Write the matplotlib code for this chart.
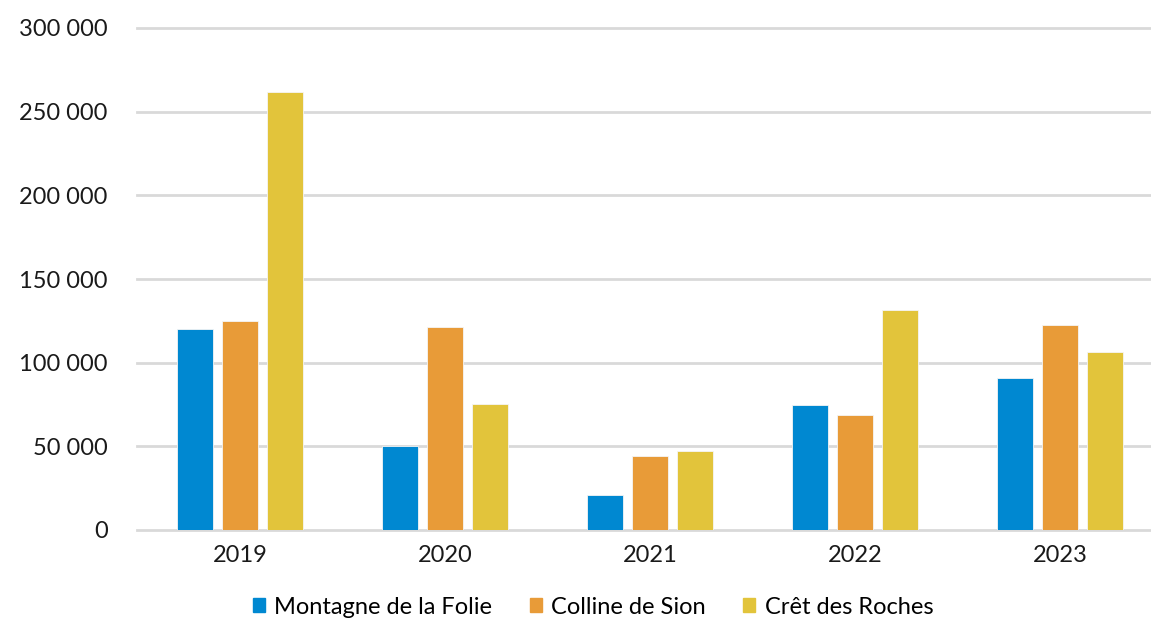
import matplotlib
matplotlib.use("Agg")
import matplotlib.pyplot as plt
import numpy as np
from matplotlib.patches import Rectangle

years = ["2019", "2020", "2021", "2022", "2023"]
series_names = ["Montagne de la Folie", "Colline de Sion", "Crêt des Roches"]
montagne = [120000, 50000, 21000, 75000, 91000]
colline = [125000, 121500, 44000, 69000, 122500]
cret = [262000, 75500, 47500, 131500, 106500]
colors = ["#0088D1", "#E89B38", "#E2C43B"]
yticks = [0, 50000, 100000, 150000, 200000, 250000, 300000]

plt.rcParams['font.family'] = ['Lato', 'DejaVu Sans']

fig = plt.figure(figsize=(11.51, 6.19), dpi=100)
ax = fig.add_axes([137/1151, 1-530/619, 1-137/1151, (530-28)/619])

x = np.arange(len(years))
step = 0.22
width = 0.176
for i, (vals, c, name) in enumerate(zip([montagne, colline, cret], colors, series_names)):
    ax.bar(x + (i-1)*step, vals, width, color=c, edgecolor="#f5f5f5", linewidth=0.6, label=name, zorder=3)

ax.set_xlim(-0.502, 4.444)
ax.set_ylim(0, 300000)
ax.set_yticks(yticks)
ax.set_yticklabels([f"{v:,}".replace(",", " ") for v in yticks])
ax.set_xticks(x)
ax.set_xticklabels(years)
ax.grid(axis="y", color="#D9D9D9", linewidth=2, zorder=0)
for gl in ax.get_ygridlines():
    gl.set_clip_on(False)
for s in ax.spines.values():
    s.set_visible(False)
ax.tick_params(axis="both", length=0, labelsize=17, colors="#1a1a1a")
ax.tick_params(axis="y", pad=21)
ax.tick_params(axis="x", pad=11)

handles = [Rectangle((0, 0), 1, 1, color=c) for c in colors]
fig.legend(handles, series_names, loc="center", bbox_to_anchor=(593/1151, 1-607/619), ncol=3,
           frameon=False, fontsize=17, handlelength=0.5, handleheight=0.5, handletextpad=0.4,
           columnspacing=1.6)

fig.savefig("out.png", dpi=100)
